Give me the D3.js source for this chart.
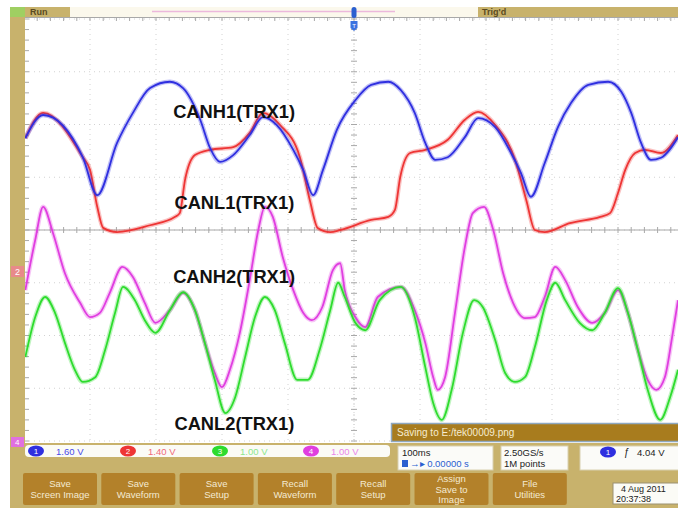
<!DOCTYPE html>
<html>
<head>
<meta charset="utf-8">
<script src="https://cdn.jsdelivr.net/npm/d3@7"></script>
<style>
  body { margin: 0; background: #fff; }
  svg { display: block; font-family: "Liberation Sans", Arial, sans-serif; }
</style>
</head>
<body>
<svg id="scope" width="678" height="508"></svg>
<script>
// trace readings: [time in ms, vertical position in divisions]
const canh1 = [[-498,1.74],[-471,2.18],[-411,1.38],[-389,0.66],[-359,1.65],[-335,2.22],[-309,2.69],[-279,2.81],[-259,2.69],
  [-233,2.09],[-218,1.55],[-203,1.29],[-183,1.42],[-158,1.80],[-138,2.14],[-117,1.99],[-92,1.52],[-77,1.14],[-62,0.66],
  [-47,1.14],[-26,1.90],[2,2.46],[26,2.75],[52,2.81],[71,2.65],[92,2.22],[108,1.65],[123,1.33],[142,1.38],[168,1.76],
  [188,2.12],[214,1.95],[238,1.46],[253,1.08],[268,0.63],[289,1.27],[309,1.95],[329,2.41],[355,2.75],[385,2.81],
  [405,2.62],[420,2.22],[435,1.65],[450,1.33],[465,1.37],[491,1.76]];

const canl1 = [[-498,1.74],[-471,2.22],[-411,1.38],[-400,1.14],[-389,0.44],[-380,0.04],[-359,-0.04],[-309,0.09],[-271,0.25],
  [-264,0.32],[-256,0.95],[-241,1.42],[-218,1.52],[-183,1.57],[-158,1.84],[-138,2.22],[-112,1.99],[-82,1.38],[-67,0.57],
  [-55,0.04],[-36,-0.04],[-21,0.00],[26,0.19],[52,0.25],[62,0.38],[70,1.00],[85,1.46],[108,1.52],[142,1.71],[168,2.09],
  [188,2.24],[214,1.99],[244,1.33],[261,0.57],[274,0.00],[289,-0.04],[327,0.13],[373,0.25],[388,0.32],[400,0.70],
  [411,1.14],[426,1.46],[441,1.52],[465,1.46],[491,1.80]];

const canh2 = [[-498,-1.14],[-483,-0.19],[-471,0.44],[-456,-0.06],[-438,-0.82],[-415,-1.38],[-400,-1.65],[-385,-1.57],
  [-370,-1.19],[-351,-0.70],[-335,-0.89],[-317,-1.38],[-301,-1.76],[-279,-1.52],[-259,-1.19],[-241,-1.52],[-226,-2.14],
  [-211,-2.71],[-200,-2.98],[-188,-2.65],[-173,-1.95],[-158,-0.95],[-145,0.00],[-135,0.44],[-123,0.25],[-108,-0.51],
  [-92,-1.14],[-77,-1.57],[-64,-1.71],[-48,-1.46],[-32,-0.76],[-21,-0.63],[-14,-1.14],[2,-1.65],[17,-1.84],[36,-1.27],
  [71,-1.08],[92,-1.52],[108,-2.14],[120,-2.79],[127,-3.03],[138,-2.79],[153,-1.57],[168,-0.32],[180,0.32],[197,0.44],
  [211,0.00],[226,-0.82],[241,-1.38],[259,-1.67],[274,-1.65],[289,-1.27],[305,-0.70],[320,-0.95],[339,-1.46],[361,-1.76],
  [380,-1.57],[400,-1.14],[415,-1.57],[430,-2.27],[445,-2.84],[458,-3.03],[471,-2.79],[482,-2.03],[491,-1.33]];

const canl2 = [[-498,-2.41],[-483,-1.65],[-468,-1.27],[-453,-1.57],[-438,-2.14],[-423,-2.65],[-411,-2.88],[-392,-2.79],
  [-377,-2.27],[-362,-1.57],[-350,-1.08],[-332,-1.33],[-317,-1.71],[-301,-1.95],[-279,-1.52],[-259,-1.18],[-241,-1.52],
  [-226,-2.14],[-211,-2.84],[-195,-3.47],[-180,-3.17],[-165,-2.41],[-150,-1.65],[-135,-1.27],[-120,-1.52],[-105,-2.14],
  [-86,-2.84],[-70,-2.84],[-52,-2.27],[-36,-1.52],[-24,-1.00],[-14,-1.27],[2,-1.76],[17,-1.90],[39,-1.33],[71,-1.08],
  [92,-1.65],[108,-2.60],[120,-3.28],[133,-3.60],[148,-3.03],[165,-1.95],[182,-1.33],[195,-1.46],[214,-2.09],[229,-2.71],
  [244,-2.88],[259,-2.79],[274,-2.22],[292,-1.33],[305,-1.00],[320,-1.33],[342,-1.76],[361,-1.90],[380,-1.57],[400,-1.10],
  [415,-1.57],[430,-2.27],[445,-3.03],[464,-3.60],[479,-3.17],[491,-2.65]];

const traceNames = ["CANH1(TRX1)", "CANL1(TRX1)", "CANH2(TRX1)", "CANL2(TRX1)"];
const labelPos = [[-274, 2.13], [-272, 0.40], [-274, -1.0], [-272, -3.8]]; // [ms, div]

// scope channel colours: 1 blue, 2 red, 3 green, 4 magenta
const chColors = ["#2f2fe0", "#ee3535", "#2edc2e", "#e03ee0"];
const chTextColors = ["#4a4ae8", "#f06a7a", "#8ce88c", "#ea86ea"];
const channelScales = ["1.60 V", "1.40 V", "1.00 V", "1.00 V"];
const buttonLabels = [["Save", "Screen Image"], ["Save", "Waveform"], ["Save", "Setup"], ["Recall", "Waveform"],
  ["Recall", "Setup"], ["Assign", "Save to", "Image"], ["File", "Utilities"]];

const khaki = "#c8b26c", ochre = "#b3812a";

const svg = d3.select("#scope");

// horizontal: 10 divisions of 100 ms, vertical: 8 divisions
const x = d3.scaleLinear().domain([-500, 500]).range([24, 684]);
const y = d3.scaleLinear().domain([-4, 4]).range([441, 19]);

// frame
svg.append("rect").attr("x", 10).attr("y", 7).attr("width", 668).attr("height", 501).attr("fill", khaki);
svg.append("rect").attr("x", 25).attr("y", 17).attr("width", 653).attr("height", 426).attr("fill", "#fff");

// top status bar
svg.append("rect").attr("x", 10).attr("y", 7).attr("width", 15).attr("height", 10).attr("fill", "#9fcf62");
svg.append("rect").attr("x", 70).attr("y", 7).attr("width", 408).attr("height", 10).attr("fill", "#fbf8ec");
svg.append("line").attr("x1", 152).attr("x2", 395).attr("y1", 11.5).attr("y2", 11.5)
  .attr("stroke", "#ecb8dc").attr("stroke-width", 1.5);
svg.append("text").attr("x", 30).attr("y", 15).attr("font-size", 9).attr("font-weight", "bold")
  .attr("fill", "#5a4a20").text("Run");
svg.append("text").attr("x", 482).attr("y", 15).attr("font-size", 9).attr("font-weight", "bold")
  .attr("fill", "#5a4a20").text("Trig'd");

// graticule
const clip = svg.append("clipPath").attr("id", "plotclip");
clip.append("rect").attr("x", 25).attr("y", 17).attr("width", 653).attr("height", 426);

const gridG = svg.append("g").attr("clip-path", "url(#plotclip)");
d3.range(-500, 501, 100).forEach(t => {
  gridG.append("line").attr("x1", x(t)).attr("x2", x(t)).attr("y1", y(4)).attr("y2", y(-4))
    .attr("stroke", "#d2d2d2").attr("stroke-width", 1).attr("stroke-dasharray", "1,4");
});
d3.range(-4, 4.01, 1).forEach(v => {
  gridG.append("line").attr("x1", x(-500)).attr("x2", x(500)).attr("y1", y(v)).attr("y2", y(v))
    .attr("stroke", "#d2d2d2").attr("stroke-width", 1).attr("stroke-dasharray", "1,4");
});
// centre cross and edges
gridG.append("line").attr("x1", x(-500)).attr("x2", x(500)).attr("y1", y(0)).attr("y2", y(0))
  .attr("stroke", "#a8a8a8");
gridG.append("line").attr("x1", x(0)).attr("x2", x(0)).attr("y1", y(4)).attr("y2", y(-4))
  .attr("stroke", "#d0d0d0").attr("stroke-dasharray", "1,2");
gridG.append("line").attr("x1", x(-500)).attr("x2", x(500)).attr("y1", 17.5).attr("y2", 17.5)
  .attr("stroke", "#a8a8a8");
d3.range(-500, 501, 20).forEach(t => {
  gridG.append("line").attr("x1", x(t)).attr("x2", x(t)).attr("y1", y(0) - 3).attr("y2", y(0) + 3)
    .attr("stroke", "#a8a8a8");
  gridG.append("line").attr("x1", x(t)).attr("x2", x(t)).attr("y1", 17).attr("y2", 21)
    .attr("stroke", "#a8a8a8");
});
d3.range(-4, 4.01, 0.2).forEach(v => {
  gridG.append("line").attr("x1", x(0) - 3).attr("x2", x(0) + 3).attr("y1", y(v)).attr("y2", y(v))
    .attr("stroke", "#a8a8a8");
  gridG.append("line").attr("x1", 25).attr("x2", 29).attr("y1", y(v)).attr("y2", y(v))
    .attr("stroke", "#a8a8a8");
});

// traces, drawn back to front
const line = d3.line()
  .x(d => x(d[0]))
  .y(d => y(d[1]))
  .curve(d3.curveMonotoneX);

const traces = svg.append("g").attr("clip-path", "url(#plotclip)");
[[canh2, chColors[3]], [canl2, chColors[2]], [canl1, chColors[1]], [canh1, chColors[0]]].forEach(([data, c]) => {
  traces.append("path").attr("d", line(data)).attr("fill", "none")
    .attr("stroke", c).attr("stroke-width", 4.5).attr("stroke-opacity", 0.3);
  traces.append("path").attr("d", line(data)).attr("fill", "none")
    .attr("stroke", c).attr("stroke-width", 1.8);
});

// trace labels
traceNames.forEach((name, i) => {
  svg.append("text").attr("x", x(labelPos[i][0])).attr("y", y(labelPos[i][1]))
    .attr("font-size", 18.3).attr("font-weight", "bold").attr("fill", "#111").text(name);
});

// trigger position marker
svg.append("rect").attr("x", x(0) - 2.5).attr("y", 7).attr("width", 5).attr("height", 11).attr("rx", 2.5)
  .attr("fill", "#2b5fd0");
svg.append("path").attr("d", `M${x(0) - 3.5},21 h7 v7 l-3.5,3 l-3.5,-3 z`).attr("fill", "#3b72e0");
svg.append("text").attr("x", x(0)).attr("y", 27.5).attr("text-anchor", "middle").attr("font-size", 6)
  .attr("fill", "#fff").text("T");

// ground markers on left frame
svg.append("rect").attr("x", 11).attr("y", 266).attr("width", 13).attr("height", 11).attr("fill", "#e88a8a");
svg.append("text").attr("x", 15).attr("y", 275).attr("font-size", 9).attr("fill", "#fff").text("2");
svg.append("rect").attr("x", 11).attr("y", 437).attr("width", 13).attr("height", 10).attr("fill", "#e070e0");
svg.append("text").attr("x", 15).attr("y", 445).attr("font-size", 8).attr("fill", "#fff").text("4");

// saving popup
svg.append("rect").attr("x", 391.5).attr("y", 423.5).attr("width", 290).attr("height", 18)
  .attr("fill", "#a87c1e").attr("stroke", "#8fa8c0").attr("stroke-width", 1.5);
svg.append("text").attr("x", 397).attr("y", 436).attr("font-size", 10).attr("fill", "#f6ecd0")
  .text("Saving to E:/tek00009.png");

// channel readout strip
svg.append("rect").attr("x", 25).attr("y", 445).attr("width", 365).attr("height", 12).attr("rx", 4)
  .attr("fill", "#fbfbf6");
const chX = [28, 120, 212, 303];
channelScales.forEach((s, i) => {
  svg.append("ellipse").attr("cx", chX[i] + 8).attr("cy", 451).attr("rx", 8).attr("ry", 5.5)
    .attr("fill", chColors[i]);
  svg.append("text").attr("x", chX[i] + 8).attr("y", 454).attr("text-anchor", "middle")
    .attr("font-size", 8).attr("fill", "#fff").text(i + 1);
  svg.append("text").attr("x", chX[i] + 28).attr("y", 455).attr("font-size", 9.5)
    .attr("fill", chTextColors[i]).text(s);
});

// timebase / acquisition / trigger boxes
const infoBox = (bx, bw) => svg.append("rect").attr("x", bx).attr("y", 446).attr("width", bw).attr("height", 24)
  .attr("fill", "#fbfbf8").attr("stroke", "#d8d0b0");
infoBox(398, 95);
svg.append("text").attr("x", 402).attr("y", 456).attr("font-size", 9.5).attr("fill", "#222").text("100ms");
svg.append("rect").attr("x", 402).attr("y", 460).attr("width", 6).attr("height", 7).attr("fill", "#2b5fd0");
svg.append("text").attr("x", 410).attr("y", 467).attr("font-size", 9.5).attr("fill", "#2b5fd0")
  .text("\u2192\u25B8 0.00000 s");
infoBox(501, 67);
svg.append("text").attr("x", 504).attr("y", 456).attr("font-size", 9.5).attr("fill", "#222").text("2.50GS/s");
svg.append("text").attr("x", 504).attr("y", 467).attr("font-size", 9.5).attr("fill", "#222").text("1M points");
infoBox(580, 110);
svg.append("ellipse").attr("cx", 608).attr("cy", 452).attr("rx", 8).attr("ry", 5.5).attr("fill", chColors[0]);
svg.append("text").attr("x", 608).attr("y", 455).attr("text-anchor", "middle").attr("font-size", 8)
  .attr("fill", "#fff").text("1");
svg.append("text").attr("x", 624).attr("y", 456).attr("font-size", 10).attr("fill", "#222").text("\u0192");
svg.append("text").attr("x", 637).attr("y", 456).attr("font-size", 9.5).attr("fill", "#222").text("4.04 V");

// soft-key buttons
buttonLabels.forEach((lbl, i) => {
  const bx = 23 + i * 78.3;
  svg.append("rect").attr("x", bx).attr("y", 473).attr("width", 74).attr("height", 32).attr("rx", 2)
    .attr("fill", ochre);
  const y0 = lbl.length === 3 ? 482 : 487;
  lbl.forEach((t, j) => {
    svg.append("text").attr("x", bx + 37).attr("y", y0 + j * 10.5).attr("text-anchor", "middle")
      .attr("font-size", 9.5).attr("fill", "#f4ead2").text(t);
  });
});

// date box
svg.append("rect").attr("x", 613).attr("y", 483).attr("width", 70).attr("height", 21)
  .attr("fill", "#fbfbf6").attr("stroke", "#9a9070");
svg.append("text").attr("x", 621).attr("y", 492).attr("font-size", 9).attr("fill", "#222").text("4 Aug 2011");
svg.append("text").attr("x", 616).attr("y", 502).attr("font-size", 9).attr("fill", "#222").text("20:37:38");
</script>
</body>
</html>
